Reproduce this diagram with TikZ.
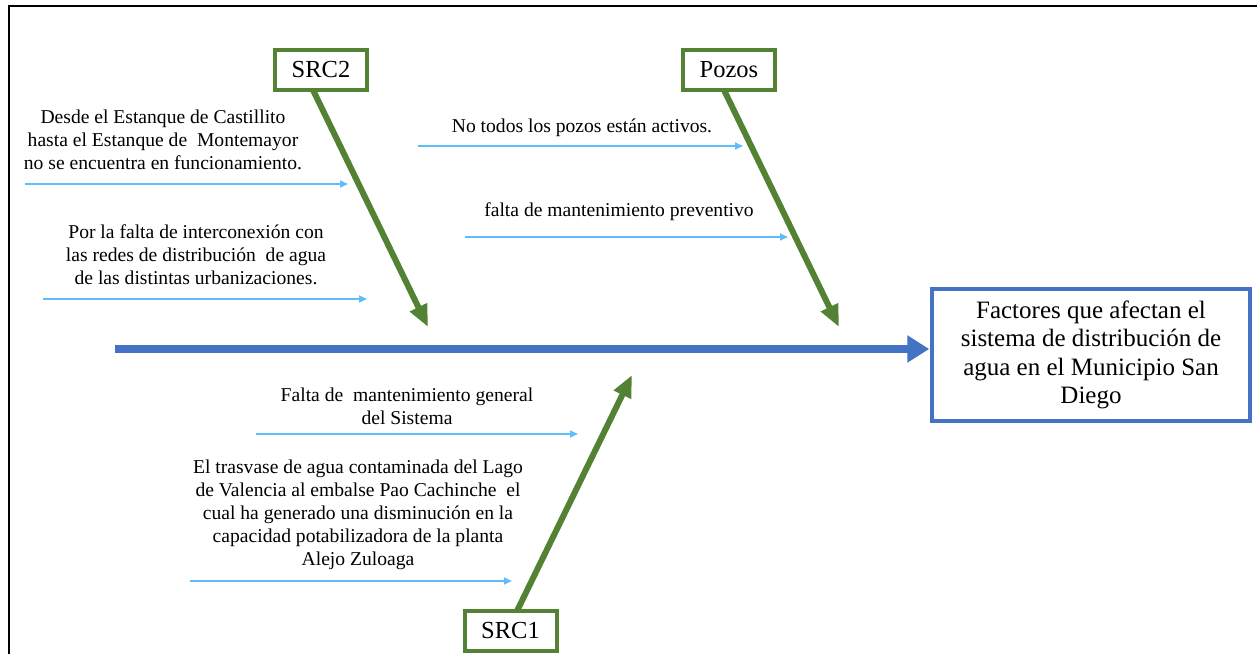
\documentclass[tikz,border=0pt]{standalone}
\usepackage{fontspec}
\setmainfont{Liberation Serif}
\usetikzlibrary{arrows.meta}
\definecolor{bonegreen}{RGB}{84,130,53}
\definecolor{spineblue}{RGB}{68,114,196}
\definecolor{ribblue}{RGB}{95,190,250}
\tikzset{
  catbox/.style={draw=bonegreen, line width=4bp, fill=white, minimum width=92bp, minimum height=40bp, inner sep=0pt, font=\fontsize{24.5bp}{28bp}\selectfont},
  bone/.style={draw=bonegreen, line width=6bp, -{Triangle[length=22bp,width=18bp]}},
  rib/.style={draw=ribblue, line width=2bp, -{Triangle[length=8bp,width=7bp]}},
  cause/.style={align=center, inner sep=0pt, font=\fontsize{19.6bp}{23bp}\selectfont},
  headbox/.style={draw=spineblue, line width=3.5bp, minimum width=318bp, minimum height=132bp, align=center, inner sep=0pt, font=\fontsize{25bp}{28.5bp}\selectfont},
}
\begin{document}
\begin{tikzpicture}[x=1bp, y=-1bp]
\useasboundingbox (0,0) rectangle (1257,654);
% outer frame (top and left only)
\draw[line width=2.2bp] (9,654) -- (9,6) -- (1257,6);

% head
\node[headbox] (head) at (1091,355) {Factores que afectan el\\sistema de distribución de\\agua en el Municipio San\\Diego};

% spine
\coordinate (spinestart) at (115,349);
\draw[draw=spineblue, line width=8bp, -{Triangle[length=22bp,width=26bp]}, shorten >=1bp] (spinestart) -- (spinestart -| head.west);

% category boxes
\node[catbox] (src2) at (321,70) {SRC2};
\node[catbox] (pozos) at (729,70) {Pozos};
\node[catbox] (src1) at (510.5,631) {SRC1};

% bone ends
\coordinate (src2tip) at (428,327);
\coordinate (pozostip) at (839,327);
\coordinate (src1tip) at (632,375);
\coordinate (src2start) at (313,90);
\coordinate (pozosstart) at (724,90);
\coordinate (src1start) at (517,611);
\draw[bone] (src2start) -- (src2tip);
\draw[bone] (pozosstart) -- (pozostip);
\draw[bone] (src1start) -- (src1tip);

% cause texts
\node[cause] (c1) at (163,140) {Desde el Estanque de Castillito\\hasta el Estanque de\ \ Montemayor\\no se encuentra en funcionamiento.};
\node[cause] (c2) at (196,255) {Por la falta de interconexión con\\las redes de distribución\ \ de agua\\de las distintas urbanizaciones.};
\node[cause] (c3) at (582,128) {No todos los pozos están activos.};
\node[cause] (c4) at (619,212) {falta de mantenimiento preventivo};
\node[cause] (c5) at (407,406) {Falta de\ \ mantenimiento general\\del Sistema};
\node[cause] (c6) at (358,515) {El trasvase de agua contaminada del Lago\\de Valencia al embalse Pao Cachinche\ \ el\\cual ha generado una disminución en la\\capacidad potabilizadora de la planta\\Alejo Zuloaga};

% rib arrows
\coordinate (r1a) at (25,184);  \coordinate (r1b) at (348,184);
\coordinate (r2a) at (43,299);  \coordinate (r2b) at (367,299);
\coordinate (r3a) at (418,146); \coordinate (r3b) at (743,146);
\coordinate (r4a) at (465,237); \coordinate (r4b) at (788,237);
\coordinate (r5a) at (256,434); \coordinate (r5b) at (578,434);
\coordinate (r6a) at (190,581); \coordinate (r6b) at (512,581);
\draw[rib] (r1a) -- (r1b);
\draw[rib] (r2a) -- (r2b);
\draw[rib] (r3a) -- (r3b);
\draw[rib] (r4a) -- (r4b);
\draw[rib] (r5a) -- (r5b);
\draw[rib] (r6a) -- (r6b);
\end{tikzpicture}
\end{document}
